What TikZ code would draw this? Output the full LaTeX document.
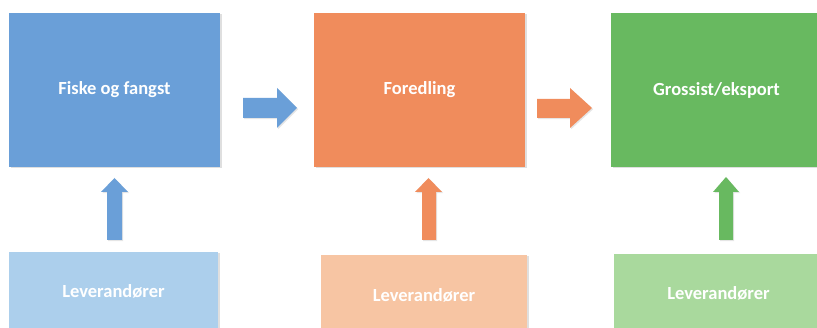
\documentclass[tikz,border=0pt]{standalone}
\usepackage{fontspec}
\setmainfont{Carlito}
\usetikzlibrary{shadows}
\definecolor{cblue}{HTML}{6A9FD8}
\definecolor{corange}{HTML}{F08C5C}
\definecolor{cgreen}{HTML}{68B960}
\definecolor{lblue}{HTML}{ACCFEC}
\definecolor{lorange}{HTML}{F7C5A3}
\definecolor{lgreen}{HTML}{A9D99D}
\tikzset{
  box/.style={rectangle, draw=none, inner sep=0pt, text=white,
    font=\fontsize{18.5}{22}\selectfont\bfseries,
    drop shadow={opacity=0.25, shadow xshift=1.5pt, shadow yshift=-1.5pt}},
  blockarrow/.style={draw=none,
    drop shadow={opacity=0.2, shadow xshift=1.2pt, shadow yshift=-1.2pt}}
}
\begin{document}
\begin{tikzpicture}[x=1pt,y=-1pt]
\useasboundingbox (0,0) rectangle (817,328);
\fill[white] (0,0) rectangle (817,328);
% top boxes
\node[box, fill=cblue, minimum width=211pt, minimum height=154pt] (fisk) at (114.5,90) {Fiske og fangst};
\node[box, fill=corange, minimum width=211pt, minimum height=154pt] (fored) at (419.5,90) {Foredling};
\node[box, fill=cgreen, minimum width=211pt, minimum height=154pt] (gross) at (716.5,90) {Grossist/eksport};
% bottom boxes
\node[box, fill=lblue, minimum width=209pt, minimum height=78pt] (lev1) at (113.5,291) {Leverandører};
\node[box, fill=lorange, minimum width=206pt, minimum height=80pt] (lev2) at (424,295) {Leverandører};
\node[box, fill=lgreen, minimum width=209pt, minimum height=78pt] (lev3) at (718.5,293) {Leverandører};
% horizontal block arrows
\fill[cblue, blockarrow] (243,98) -- (277,98) -- (277,88) -- (297,108) -- (277,128) -- (277,118) -- (243,118) -- cycle;
\fill[corange, blockarrow] (537,99) -- (570,99) -- (570,88) -- (592,108) -- (570,128) -- (570,118) -- (537,118) -- cycle;
% vertical block arrows
\fill[cblue, blockarrow] (107,240) -- (107,192) -- (101,192) -- (114.5,178) -- (128,192) -- (122,192) -- (122,240) -- cycle;
\fill[corange, blockarrow] (422,240) -- (422,192) -- (415,192) -- (428.5,178) -- (442,192) -- (436,192) -- (436,240) -- cycle;
\fill[cgreen, blockarrow] (719,240) -- (719,192) -- (713,192) -- (726,177) -- (739,192) -- (733,192) -- (733,240) -- cycle;
\end{tikzpicture}
\end{document}
